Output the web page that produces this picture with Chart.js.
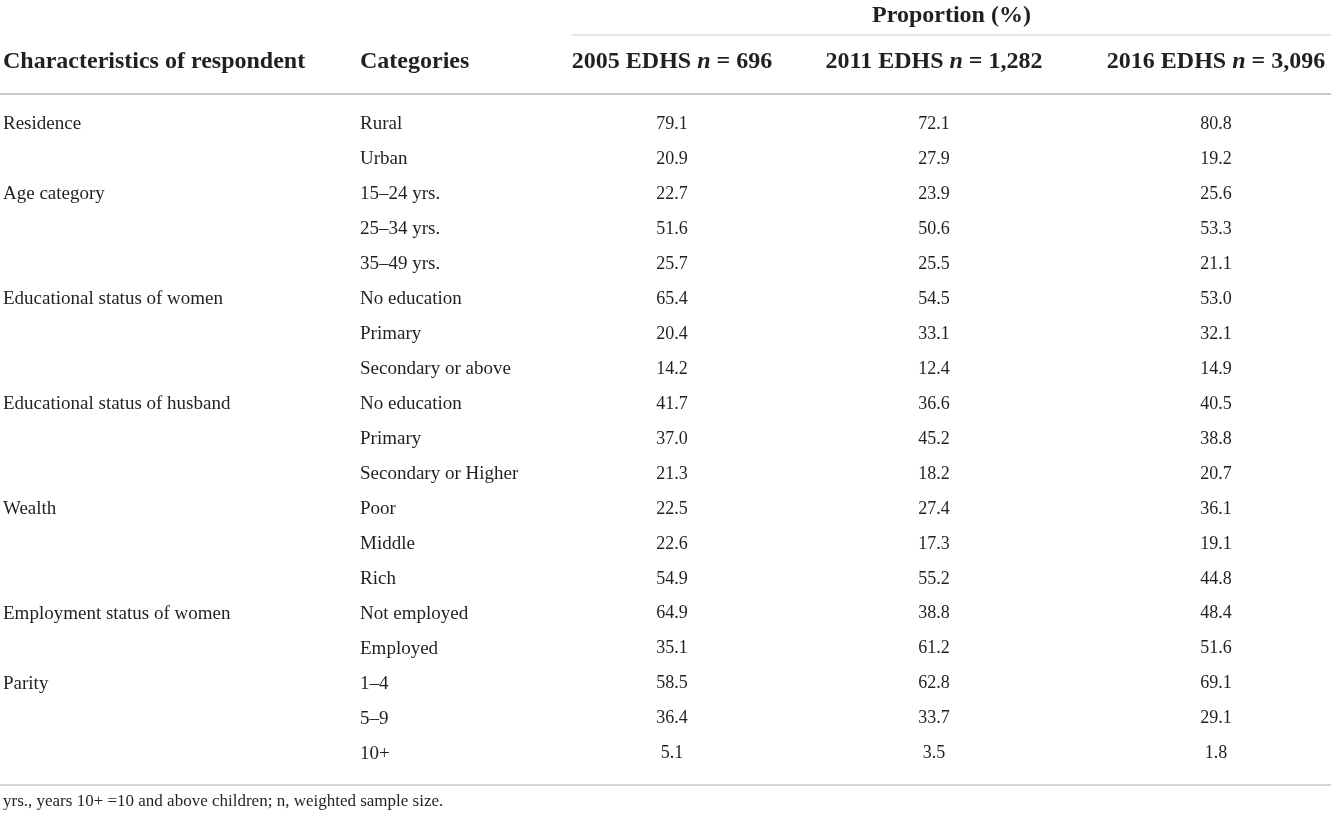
<!DOCTYPE html>
<html>
<head>
<meta charset="utf-8">
<title>Characteristics of respondents, EDHS 2005–2016</title>
<script src="https://cdn.jsdelivr.net/npm/chart.js@4.4.1/dist/chart.umd.min.js"></script>
<style>
  html, body { margin: 0; padding: 0; background: #fff; }
  #wrap { width: 1331px; height: 818px; position: relative; }
</style>
</head>
<body>
<div id="wrap"><canvas id="tableChart"></canvas></div>
<script>
// table content
const groups = [
  "Residence", "", "Age category", "", "",
  "Educational status of women", "", "",
  "Educational status of husband", "", "",
  "Wealth", "", "",
  "Employment status of women", "",
  "Parity", "", ""
];
const categories = [
  "Rural", "Urban", "15–24 yrs.", "25–34 yrs.", "35–49 yrs.",
  "No education", "Primary", "Secondary or above",
  "No education", "Primary", "Secondary or Higher",
  "Poor", "Middle", "Rich",
  "Not employed", "Employed",
  "1–4", "5–9", "10+"
];
const edhs2005 = [79.1, 20.9, 22.7, 51.6, 25.7, 65.4, 20.4, 14.2, 41.7, 37.0, 21.3, 22.5, 22.6, 54.9, 64.9, 35.1, 58.5, 36.4, 5.1];
const edhs2011 = [72.1, 27.9, 23.9, 50.6, 25.5, 54.5, 33.1, 12.4, 36.6, 45.2, 18.2, 27.4, 17.3, 55.2, 38.8, 61.2, 62.8, 33.7, 3.5];
const edhs2016 = [80.8, 19.2, 25.6, 53.3, 21.1, 53.0, 32.1, 14.9, 40.5, 38.8, 20.7, 36.1, 19.1, 44.8, 48.4, 51.6, 69.1, 29.1, 1.8];

const columnHeads = ["Characteristics of respondent", "Categories"];
const surveyHeads = ["2005 EDHS", "2011 EDHS", "2016 EDHS"];
const sampleSizes = ["696", "1,282", "3,096"];
const spanHead = "Proportion (%)";
const footnote = "yrs., years 10+ =10 and above children; n, weighted sample size.";

// layout (pixels along the x scale, offsets from the chart area)
const colAnchor = [3, 360, 672, 934, 1216];
const FONT = '"Liberation Serif", "Times New Roman", serif';
const INK = "#231f20";
const RULE = "#c9c9c9";
const NUDGE = 1.5; // middle baseline sits a bit high

const rowIds = categories.map((c, i) => String(i));

function cellData(col) {
  return rowIds.map(id => ({ x: colAnchor[col], y: id }));
}

const datasets = [
  { texts: groups, align: "left", font: "19px " + FONT, data: cellData(0) },
  { texts: categories, align: "left", font: "19px " + FONT, data: cellData(1) },
  { texts: edhs2005.map(v => v.toFixed(1)), align: "center", font: "18px " + FONT, data: cellData(2) },
  { texts: edhs2011.map(v => v.toFixed(1)), align: "center", font: "18px " + FONT, data: cellData(3) },
  { texts: edhs2016.map(v => v.toFixed(1)), align: "center", font: "18px " + FONT, data: cellData(4) }
].map(d => Object.assign(d, { pointRadius: 0, pointHoverRadius: 0, showLine: false }));

function drawRuns(ctx, runs, cx, y) {
  let total = 0;
  runs.forEach(r => { ctx.font = r.font; r.w = ctx.measureText(r.text).width; total += r.w; });
  let x = cx - total / 2;
  ctx.textAlign = "left";
  runs.forEach(r => { ctx.font = r.font; ctx.fillText(r.text, x, y); x += r.w; });
}

function rule(ctx, x1, x2, y, w) {
  ctx.save();
  ctx.strokeStyle = RULE;
  ctx.lineWidth = w;
  ctx.beginPath();
  ctx.moveTo(x1, y);
  ctx.lineTo(x2, y);
  ctx.stroke();
  ctx.restore();
}

const tablePlugin = {
  id: "tableText",
  afterDatasetsDraw(chart) {
    const ctx = chart.ctx;
    const area = chart.chartArea;
    const xs = chart.scales.x;
    ctx.save();
    ctx.fillStyle = INK;
    ctx.textBaseline = "middle";

    // cells
    chart.data.datasets.forEach((ds, i) => {
      const meta = chart.getDatasetMeta(i);
      ctx.font = ds.font;
      ctx.textAlign = ds.align;
      meta.data.forEach((pt, j) => {
        if (ds.texts[j]) ctx.fillText(ds.texts[j], pt.x, pt.y + NUDGE);
      });
    });

    // header
    const bold = "bold 24px " + FONT;
    const boldIt = "italic bold 24px " + FONT;
    const headY = area.top - 45.5 + NUDGE;
    ctx.font = bold;
    ctx.textAlign = "left";
    columnHeads.forEach((h, i) => ctx.fillText(h, xs.getPixelForValue(colAnchor[i]), headY));
    surveyHeads.forEach((h, i) => {
      drawRuns(ctx, [
        { text: h + " ", font: bold },
        { text: "n", font: boldIt },
        { text: " = " + sampleSizes[i], font: bold }
      ], xs.getPixelForValue(colAnchor[i + 2]), headY);
    });

    const spanLeft = 572;
    const spanMid = (spanLeft + area.right) / 2;
    ctx.font = bold;
    ctx.textAlign = "center";
    ctx.fillText(spanHead, spanMid, area.top - 91.5 + NUDGE);

    rule(ctx, spanLeft, area.right, area.top - 70.5, 1.2);
    rule(ctx, area.left, area.right, area.top - 11.5, 2);
    rule(ctx, area.left, area.right, area.bottom + 15.5, 1.6);

    // footnote
    ctx.font = "17px " + FONT;
    ctx.textAlign = "left";
    ctx.fillText(footnote, 3, area.bottom + 30.5 + NUDGE);
    ctx.restore();
  }
};

new Chart(document.getElementById("tableChart"), {
  type: "scatter",
  data: { datasets: datasets },
  options: {
    responsive: true,
    maintainAspectRatio: false,
    animation: false,
    events: [],
    layout: { padding: { top: 105.5, bottom: 48.5, left: 0, right: 0 } },
    plugins: { legend: { display: false }, tooltip: { enabled: false } },
    scales: {
      x: { type: "linear", min: 0, max: 1331, display: false },
      y: { type: "category", labels: rowIds, offset: true, display: false }
    }
  },
  plugins: [tablePlugin]
});
</script>
</body>
</html>
